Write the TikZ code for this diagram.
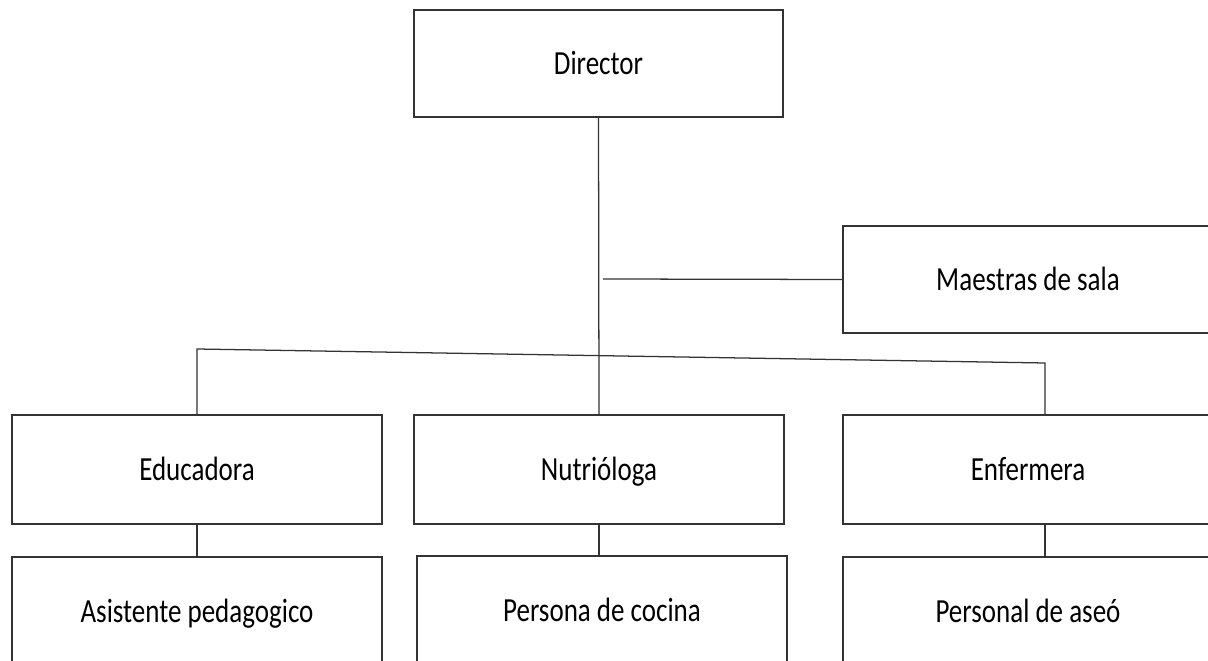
\documentclass[tikz,border=0pt]{standalone}
\usepackage{graphicx}
\usepackage{fontspec}
\setmainfont{Carlito}
\usepackage{tikz}
\usetikzlibrary{positioning}

\newcommand{\tall}[1]{\scalebox{1}[1.25]{\vphantom{Ág}#1}}
\tikzset{
    puesto/.style={draw=black!80, line width=0.9pt, rectangle, minimum width=370*0.025cm, minimum height=108*0.025cm, inner sep=0pt, font=\fontsize{19.2}{23}\selectfont},
    enlace/.style={draw=black!80, line width=0.9pt}
}

\begin{document}
\begin{tikzpicture}[x=0.025cm, y=-0.025cm]
        % Define the page
        \useasboundingbox (0,0) rectangle (1208,661);
        \clip (0,0) rectangle (1208,661);
        \fill[white] (0,0) rectangle (1208,661);

        % Define the boxes
        \node[puesto, minimum width=369*0.025cm, minimum height=107*0.025cm] (director) at (598.5,63.5) {\tall{Director}};
        \node[puesto, minimum height=107*0.025cm] (maestras) at (1028,279.5) {\tall{Maestras de sala}};

        \node[puesto, minimum height=109*0.025cm] (educadora) at (197,469.5) {\tall{Educadora}};
        \node[puesto, minimum height=109*0.025cm] (nutriologa) at (599,469.5) {\tall{Nutrióloga}};
        \node[puesto, minimum height=109*0.025cm] (enfermera) at (1028,469.5) {\tall{Enfermera}};

        \node[puesto, minimum height=108*0.025cm] (asistente) at (197,611) {\tall{Asistente pedagogico}};
        \node[puesto, minimum height=108*0.025cm] (cocina) at (602,610) {\tall{Persona de cocina}};
        \node[puesto, minimum height=108*0.025cm] (aseo) at (1028,611) {\tall{Personal de aseó}};

        % Define the joints
        \coordinate (sala) at (603,279);
        \coordinate (busizq) at (197,349);
        \coordinate (busder) at (1045,363);

        % Add the connectors
        \draw[enlace] (director.south) -- (nutriologa.north);
        \draw[enlace] (sala) -- (maestras.west);
        \draw[enlace] (educadora.north) -- (busizq) -- (busder) -- (busder |- enfermera.north);
        \draw[enlace] (educadora.south) -- (asistente.north);
        \draw[enlace] (nutriologa.south) -- (nutriologa.south |- cocina.north);
        \draw[enlace] (busder |- enfermera.south) -- (busder |- aseo.north);
    \end{tikzpicture}
\end{document}
